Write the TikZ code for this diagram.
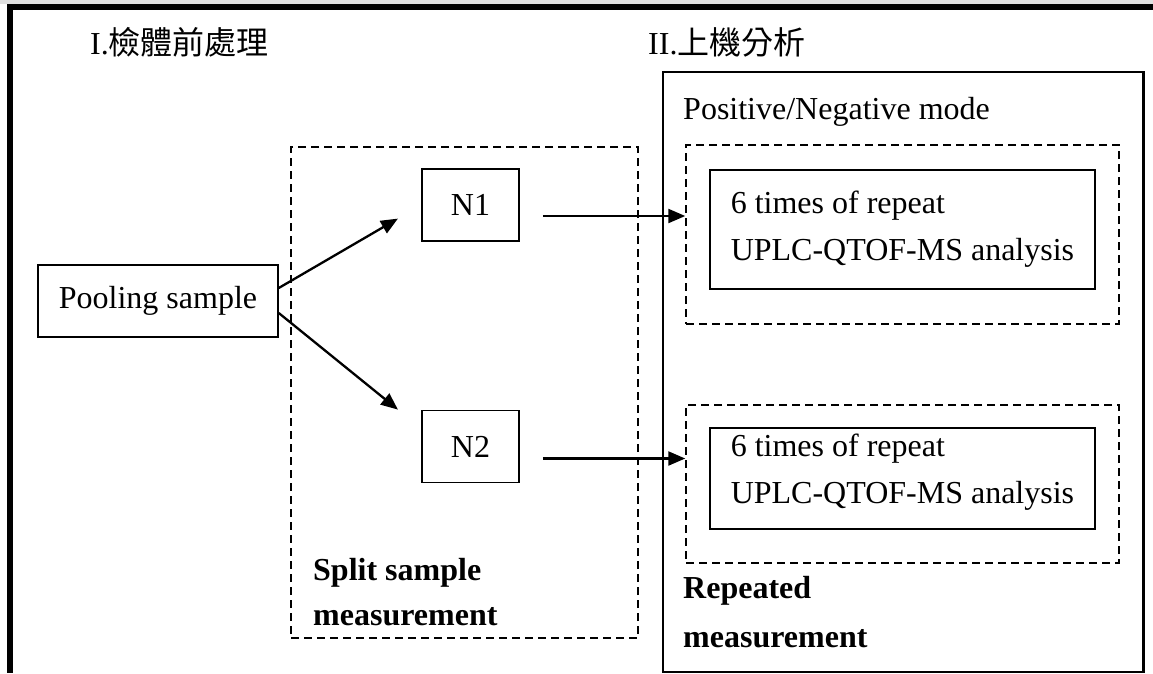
\documentclass[tikz,border=0pt]{standalone}
\usepackage{fontspec}
\setmainfont{Liberation Serif}
\newfontfamily\cjk{Noto Sans CJK TC}
\usetikzlibrary{arrows.meta,positioning}

\begin{document}
\begin{tikzpicture}[x=1pt,y=-1pt,font=\fontsize{32}{47}\selectfont,
  b/.style={draw,line width=1.5pt,inner sep=0pt},
  db/.style={b,dash pattern=on 8pt off 5pt},
  t/.style={inner sep=0pt,align=left},
  a/.style={-{Triangle[length=17pt,width=14pt]},line width=2.3pt}]
\useasboundingbox (0,0) rectangle (1153,673);
% page frame
\fill[black!12] (0,0) rectangle (1153,4);
\fill (7,4) rectangle (1153,10);
\fill (7,4) rectangle (13,673);
% stage boxes
\node[b,minimum width=480pt,minimum height=600pt] (ana) at (903,372) {};
\draw[line width=2pt] (ana.north east) -- (ana.south east);
\node[db,minimum width=347pt,minimum height=491pt] (split) at (464.5,392.5) {};
\node[t,anchor=base west] (ti1) at (90,54) {I.{\cjk 檢體前處理}};
\node[t,anchor=base west] (ti2) at (648,54) {II.{\cjk 上機分析}};
\node[t,anchor=base west] (mode) at (683,119) {Positive/Negative mode};
% samples
\node[b,minimum width=240pt,minimum height=72pt] (pool) at (158,301) {Pooling sample};
\node[b,minimum width=97pt,minimum height=72pt] (n1) at (470.5,205) {N1};
\node[b,minimum width=97pt,minimum height=72pt,below=168pt of n1] (n2) {N2};
% repeated runs
\node[db,minimum width=433pt,minimum height=179pt] (rep1) at (902.5,234.5) {};
\node[db,minimum width=433pt,minimum height=158pt] (rep2) at (902.5,484) {};
\node[b,align=left,minimum width=385pt,minimum height=119pt] (ms1) at (902.5,229.5) {6 times of repeat\\UPLC-QTOF-MS analysis};
\node[b,align=left,text depth=20pt,minimum width=385pt,minimum height=101pt] (ms2) at (902.5,478.5) {6 times of repeat\\UPLC-QTOF-MS analysis};
\node[t,anchor=north west,font=\fontsize{32}{45}\selectfont\bfseries] (splitlab) at (313,558) {Split sample\\measurement};
\node[t,anchor=north west,font=\fontsize{32}{49}\selectfont\bfseries] (replab) at (683,576.5) {Repeated\\measurement};
% arrows
\draw[a,shorten >=27pt] ([yshift=13pt]pool.east) -- (n1.west);
\draw[a,shorten >=30pt] ([yshift=-12pt]pool.east) -- ([yshift=18pt]n2.west);
\draw[a,shorten <=23pt] ([yshift=-11pt]n1.east) -- ([yshift=-11pt]n1.east -| rep1.west);
\draw[a,shorten <=23pt] ([yshift=-12pt]n2.east) -- ([yshift=-12pt]n2.east -| rep2.west);
\end{tikzpicture}
\end{document}
